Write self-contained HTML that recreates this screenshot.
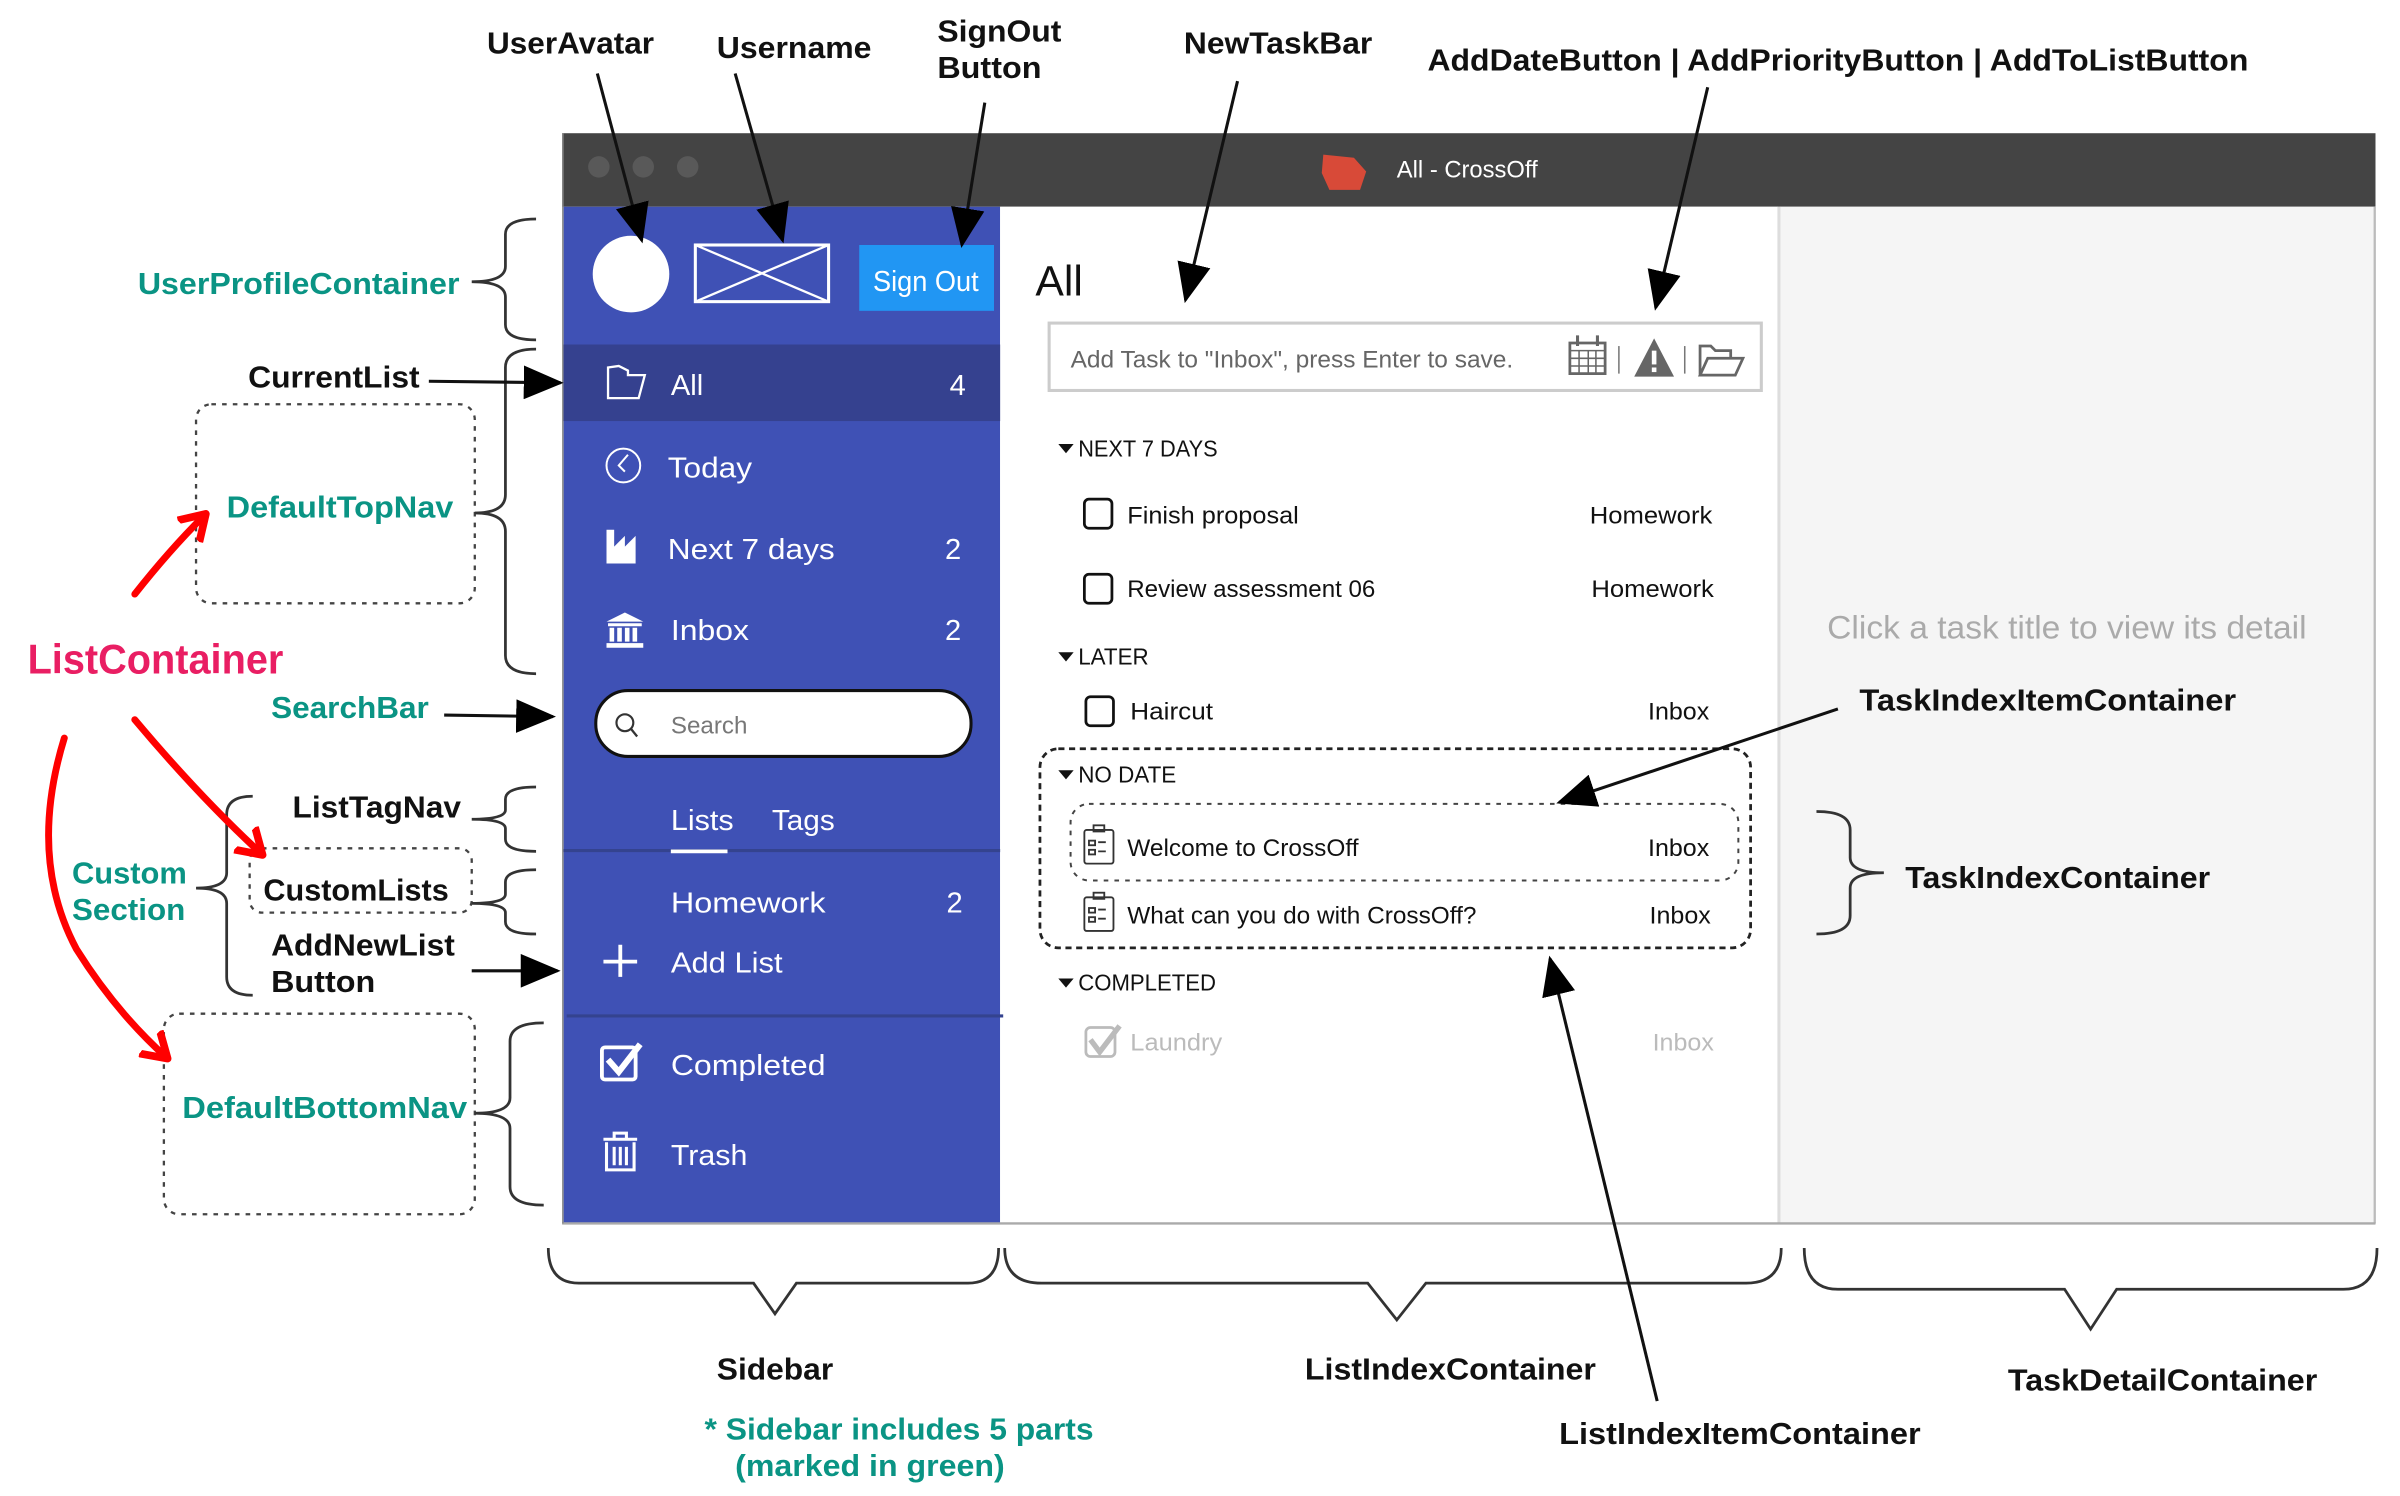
<!DOCTYPE html>
<html><head><meta charset="utf-8"><style>
html,body{margin:0;padding:0;background:#fff;width:2400px;height:1496px;overflow:hidden}
svg{display:block}
text{font-family:"Liberation Sans",sans-serif}
.b{font-weight:bold;fill:#111;font-size:20px}
.g{font-weight:bold;fill:#0a9484;font-size:20px}
.w{fill:#fff;font-size:19px}
.k{fill:#111;font-size:15px}
</style></head><body>
<svg width="2400" height="1496" viewBox="0 0 1567 977" preserveAspectRatio="none" xmlns="http://www.w3.org/2000/svg">
<defs>
<marker id="ahb" markerWidth="26" markerHeight="22" refX="24" refY="11" orient="auto" markerUnits="userSpaceOnUse"><path d="M0,0 L26,11 L0,22 z" fill="#000"/></marker>
<marker id="ahr" markerWidth="26" markerHeight="24" refX="14" refY="12" orient="auto" markerUnits="userSpaceOnUse"><path d="M0,2 L16,12 L0,22" fill="none" stroke="#f00" stroke-width="5" stroke-linejoin="round"/></marker>
</defs>

<!-- window -->
<rect x="367" y="87" width="1184" height="48" fill="#444"/>
<circle cx="391" cy="109" r="7" fill="#595959"/>
<circle cx="420" cy="109" r="7" fill="#595959"/>
<circle cx="449" cy="109" r="7" fill="#595959"/>
<path d="M864,101 L884,103 L892,112 L888,124 L868,124 L863,113 z" fill="#d84a38"/>
<text x="912" y="116" fill="#fff" font-size="16" textLength="92" lengthAdjust="spacingAndGlyphs">All - CrossOff</text>

<rect x="368" y="135" width="285" height="664" fill="#3f51b5"/>
<rect x="653" y="135" width="508" height="664" fill="#fff"/>
<rect x="1162" y="135" width="389" height="664" fill="#f5f5f5"/>
<line x1="1161.5" y1="135" x2="1161.5" y2="799" stroke="#ddd" stroke-width="2"/>
<line x1="1550.5" y1="135" x2="1550.5" y2="799" stroke="#bbb" stroke-width="1.5"/>
<line x1="367" y1="799" x2="1551" y2="799" stroke="#aaa" stroke-width="1.5"/>
<line x1="367.5" y1="87" x2="367.5" y2="799" stroke="#888" stroke-width="1"/>

<!-- sidebar -->
<circle cx="412" cy="179" r="25" fill="#fff"/>
<rect x="454" y="160" width="87" height="37" fill="none" stroke="#fff" stroke-width="2"/>
<path d="M454,160 L541,197 M541,160 L454,197" stroke="#fff" stroke-width="1.5"/>
<rect x="561" y="160" width="88" height="43" fill="#2196f3"/>
<text x="570" y="190" class="w" font-size="18" textLength="69" lengthAdjust="spacingAndGlyphs">Sign Out</text>

<rect x="368" y="225" width="285" height="50" fill="#35418f"/>
<path d="M397,240 L397,260 L417,260 L421,245 L410,245 L410,242 L404,239 z" fill="none" stroke="#fff" stroke-width="1.5"/>
<text x="438" y="258" class="w" font-size="20">All</text>
<text x="620" y="258" class="w" font-size="20">4</text>
<circle cx="407" cy="304" r="11" fill="none" stroke="#fff" stroke-width="1.3"/>
<path d="M410,297 L404,304 L408,308" fill="none" stroke="#fff" stroke-width="1.3"/>
<text x="436" y="312" class="w" font-size="20" textLength="55" lengthAdjust="spacingAndGlyphs">Today</text>
<path d="M396,346 L401,346 L401,357 L408,350 L408,357 L415,350 L415,368 L396,368 z" fill="#fff"/>
<text x="436" y="365" class="w" font-size="20" textLength="109" lengthAdjust="spacingAndGlyphs">Next 7 days</text>
<text x="617" y="365" class="w" font-size="20">2</text>
<path d="M396,406 L408,400 L420,406 z M397,407 h22 v2 h-22z M398,410 h3 v9 h-3z M403,410 h3 v9 h-3z M408,410 h3 v9 h-3z M413,410 h3 v9 h-3z M396,420 h24 v3 h-24z" fill="#fff"/>
<text x="438" y="418" class="w" font-size="20" textLength="51" lengthAdjust="spacingAndGlyphs">Inbox</text>
<text x="617" y="418" class="w" font-size="20">2</text>

<rect x="389" y="451" width="245" height="43" rx="21" fill="#fff" stroke="#111" stroke-width="2"/>
<circle cx="408" cy="472" r="5.5" fill="none" stroke="#333" stroke-width="1.4"/>
<line x1="412" y1="476" x2="416" y2="481" stroke="#333" stroke-width="1.5"/>
<text x="438" y="479" fill="#777" font-size="16" textLength="50" lengthAdjust="spacingAndGlyphs">Search</text>

<text x="438" y="542" class="w" textLength="41" lengthAdjust="spacingAndGlyphs">Lists</text>
<text x="504" y="542" class="w" textLength="41" lengthAdjust="spacingAndGlyphs">Tags</text>
<line x1="368" y1="555.5" x2="653" y2="555.5" stroke="#34438f" stroke-width="2"/>
<line x1="438" y1="556" x2="475" y2="556" stroke="#fff" stroke-width="2.5"/>
<text x="438" y="596" class="w" textLength="101" lengthAdjust="spacingAndGlyphs">Homework</text>
<text x="618" y="596" class="w">2</text>
<path d="M405,617 v21 M394,628 h22" stroke="#fff" stroke-width="2.5"/>
<text x="438" y="635" class="w" textLength="73" lengthAdjust="spacingAndGlyphs">Add List</text>
<line x1="370" y1="663.5" x2="655" y2="663.5" stroke="#34438f" stroke-width="2"/>
<rect x="393" y="684" width="22" height="21" rx="2" fill="none" stroke="#fff" stroke-width="2.5"/>
<path d="M397,692 L404,700 L418,682" fill="none" stroke="#fff" stroke-width="4"/>
<text x="438" y="702" class="w" textLength="101" lengthAdjust="spacingAndGlyphs">Completed</text>
<path d="M394,744 h22 M401,744 v-4 h8 v4 M396,746 v18 h18 v-18 M401,749 v12 M405,749 v12 M409,749 v12" fill="none" stroke="#fff" stroke-width="2"/>
<text x="438" y="761" class="w" textLength="50" lengthAdjust="spacingAndGlyphs">Trash</text>

<!-- middle -->
<text x="676" y="193" fill="#111" font-size="28" textLength="31" lengthAdjust="spacingAndGlyphs">All</text>
<rect x="685" y="211" width="465" height="44" fill="#fff" stroke="#ccc" stroke-width="2"/>
<text x="699" y="240" fill="#666" font-size="16" textLength="289" lengthAdjust="spacingAndGlyphs">Add Task to "Inbox", press Enter to save.</text>
<rect x="1025" y="224" width="23" height="20" fill="none" stroke="#666" stroke-width="1.8"/>
<path d="M1025,229 h23 M1025,234 h23 M1025,239 h23 M1031,229 v15 M1037,229 v15 M1042,229 v15" stroke="#666" stroke-width="1"/>
<path d="M1030,219 v7 M1043,219 v7" stroke="#666" stroke-width="2"/>
<line x1="1057" y1="226" x2="1057" y2="244" stroke="#777" stroke-width="1"/>
<path d="M1080,221 L1093,246 L1067,246 z" fill="#666"/>
<rect x="1078.5" y="229" width="3" height="9" fill="#fff"/><rect x="1078.5" y="240" width="3" height="3" fill="#fff"/>
<line x1="1100" y1="226" x2="1100" y2="244" stroke="#777" stroke-width="1"/>
<path d="M1110,245 L1110,226 L1117,226 L1120,229 L1130,229 L1130,234 M1110,245 L1115,234 L1138,234 L1133,245 z" fill="none" stroke="#666" stroke-width="1.8"/>

<path d="M691,290 h10 l-5,6 z" fill="#111"/>
<text x="704" y="298" class="k" textLength="91" lengthAdjust="spacingAndGlyphs">NEXT 7 DAYS</text>
<rect x="708" y="326" width="18" height="19" rx="3" fill="none" stroke="#111" stroke-width="1.8"/>
<text x="736" y="342" fill="#111" font-size="16" textLength="112" lengthAdjust="spacingAndGlyphs">Finish proposal</text>
<text x="1038" y="342" fill="#111" font-size="16" textLength="80" lengthAdjust="spacingAndGlyphs">Homework</text>
<rect x="708" y="375" width="18" height="19" rx="3" fill="none" stroke="#111" stroke-width="1.8"/>
<text x="736" y="390" fill="#111" font-size="16" textLength="162" lengthAdjust="spacingAndGlyphs">Review assessment 06</text>
<text x="1039" y="390" fill="#111" font-size="16" textLength="80" lengthAdjust="spacingAndGlyphs">Homework</text>
<path d="M691,426 h10 l-5,6 z" fill="#111"/>
<text x="704" y="434" class="k" textLength="46" lengthAdjust="spacingAndGlyphs">LATER</text>
<rect x="709" y="455" width="18" height="19" rx="3" fill="none" stroke="#111" stroke-width="1.8"/>
<text x="738" y="470" fill="#111" font-size="16" textLength="54" lengthAdjust="spacingAndGlyphs">Haircut</text>
<text x="1076" y="470" fill="#111" font-size="16" textLength="40" lengthAdjust="spacingAndGlyphs">Inbox</text>

<rect x="679" y="489" width="464" height="130" rx="12" fill="none" stroke="#222" stroke-width="1.8" stroke-dasharray="4,3"/>
<path d="M691,503 h10 l-5,6 z" fill="#111"/>
<text x="704" y="511" class="k" textLength="64" lengthAdjust="spacingAndGlyphs">NO DATE</text>
<rect x="699" y="525" width="436" height="50" rx="12" fill="none" stroke="#444" stroke-width="1.3" stroke-dasharray="3,4"/>
<g fill="none" stroke="#333" stroke-width="1.2">
<rect x="708" y="542" width="19" height="22" rx="1.5"/><rect x="714" y="539" width="7" height="4"/>
<rect x="711" y="549" width="4" height="3"/><rect x="711" y="555" width="4" height="3"/><path d="M717,550 h5 M717,556 h5"/>
<rect x="708" y="586" width="19" height="22" rx="1.5"/><rect x="714" y="583" width="7" height="4"/>
<rect x="711" y="593" width="4" height="3"/><rect x="711" y="599" width="4" height="3"/><path d="M717,594 h5 M717,600 h5"/>
</g>
<text x="736" y="559" fill="#111" font-size="16" textLength="151" lengthAdjust="spacingAndGlyphs">Welcome to CrossOff</text>
<text x="1076" y="559" fill="#111" font-size="16" textLength="40" lengthAdjust="spacingAndGlyphs">Inbox</text>
<text x="736" y="603" fill="#111" font-size="16" textLength="228" lengthAdjust="spacingAndGlyphs">What can you do with CrossOff?</text>
<text x="1077" y="603" fill="#111" font-size="16" textLength="40" lengthAdjust="spacingAndGlyphs">Inbox</text>
<path d="M691,639 h10 l-5,6 z" fill="#111"/>
<text x="704" y="647" class="k" textLength="90" lengthAdjust="spacingAndGlyphs">COMPLETED</text>
<rect x="709" y="671" width="19" height="19" rx="3" fill="none" stroke="#bbb" stroke-width="1.8"/>
<path d="M712,679 L718,687 L731,670" fill="none" stroke="#bbb" stroke-width="3.5"/>
<text x="738" y="686" fill="#bbb" font-size="16" textLength="60" lengthAdjust="spacingAndGlyphs">Laundry</text>
<text x="1079" y="686" fill="#bbb" font-size="16" textLength="40" lengthAdjust="spacingAndGlyphs">Inbox</text>

<text x="1193" y="417" fill="#aaa" font-size="21" textLength="313" lengthAdjust="spacingAndGlyphs">Click a task title to view its detail</text>

<!-- annotation labels -->
<text x="318" y="35" class="b" textLength="109" lengthAdjust="spacingAndGlyphs">UserAvatar</text>
<text x="468" y="38" class="b" textLength="101" lengthAdjust="spacingAndGlyphs">Username</text>
<text x="612" y="27" class="b" textLength="81" lengthAdjust="spacingAndGlyphs">SignOut</text>
<text x="612" y="51" class="b" textLength="68" lengthAdjust="spacingAndGlyphs">Button</text>
<text x="773" y="35" class="b" textLength="123" lengthAdjust="spacingAndGlyphs">NewTaskBar</text>
<text x="932" y="46" class="b" textLength="536" lengthAdjust="spacingAndGlyphs">AddDateButton | AddPriorityButton | AddToListButton</text>
<text x="90" y="192" class="g" textLength="210" lengthAdjust="spacingAndGlyphs">UserProfileContainer</text>
<text x="162" y="253" class="b" textLength="112" lengthAdjust="spacingAndGlyphs">CurrentList</text>
<text x="148" y="338" class="g" textLength="148" lengthAdjust="spacingAndGlyphs">DefaultTopNav</text>
<text x="18" y="440" font-size="27" fill="#e91e63" font-weight="bold" textLength="167" lengthAdjust="spacingAndGlyphs">ListContainer</text>
<text x="177" y="469" class="g" textLength="103" lengthAdjust="spacingAndGlyphs">SearchBar</text>
<text x="191" y="534" class="b" textLength="110" lengthAdjust="spacingAndGlyphs">ListTagNav</text>
<text x="172" y="588" class="b" textLength="121" lengthAdjust="spacingAndGlyphs">CustomLists</text>
<text x="47" y="577" class="g" textLength="75" lengthAdjust="spacingAndGlyphs">Custom</text>
<text x="47" y="601" class="g" textLength="74" lengthAdjust="spacingAndGlyphs">Section</text>
<text x="177" y="624" class="b" textLength="120" lengthAdjust="spacingAndGlyphs">AddNewList</text>
<text x="177" y="648" class="b" textLength="68" lengthAdjust="spacingAndGlyphs">Button</text>
<text x="119" y="730" class="g" textLength="186" lengthAdjust="spacingAndGlyphs">DefaultBottomNav</text>
<text x="468" y="901" class="b" textLength="76" lengthAdjust="spacingAndGlyphs">Sidebar</text>
<text x="852" y="901" class="b" textLength="190" lengthAdjust="spacingAndGlyphs">ListIndexContainer</text>
<text x="1311" y="908" class="b" textLength="202" lengthAdjust="spacingAndGlyphs">TaskDetailContainer</text>
<text x="460" y="940" class="g" textLength="254" lengthAdjust="spacingAndGlyphs">* Sidebar includes 5 parts</text>
<text x="480" y="964" class="g" textLength="176" lengthAdjust="spacingAndGlyphs">(marked in green)</text>
<text x="1018" y="943" class="b" textLength="236" lengthAdjust="spacingAndGlyphs">ListIndexItemContainer</text>
<text x="1214" y="464" class="b" textLength="246" lengthAdjust="spacingAndGlyphs">TaskIndexItemContainer</text>
<text x="1244" y="580" class="b" textLength="199" lengthAdjust="spacingAndGlyphs">TaskIndexContainer</text>

<!-- dotted boxes -->
<g fill="none" stroke="#444" stroke-width="1.5" stroke-dasharray="3,4">
<rect x="128" y="264" width="182" height="130" rx="10"/>
<rect x="163" y="554" width="145" height="42" rx="8"/>
<rect x="107" y="662" width="203" height="131" rx="10"/>
</g>

<!-- braces -->
<g fill="none" stroke="#333" stroke-width="1.8">
<path d="M350,143 Q330,143 330,153 L330,174 Q330,184 308,184 Q330,184 330,194 L330,212 Q330,222 350,222"/>
<path d="M350,228 Q330,228 330,240 L330,323 Q330,335 310,335 Q330,335 330,347 L330,428 Q330,440 350,440"/>
<path d="M350,514 Q330,514 330,522 L330,529 Q330,535 308,535 Q330,535 330,541 L330,548 Q330,556 350,556"/>
<path d="M350,568 Q330,568 330,576 L330,584 Q330,590 308,590 Q330,590 330,596 L330,602 Q330,610 350,610"/>
<path d="M165,520 Q148,520 148,532 L148,570 Q148,580 128,580 Q148,580 148,590 L148,638 Q148,650 165,650"/>
<path d="M355,668 Q333,668 333,680 L333,717 Q333,727 310,727 Q333,727 333,737 L333,775 Q333,787 355,787"/>
<path d="M1186,530 Q1208,530 1208,542 L1208,560 Q1208,570 1230,570 Q1208,570 1208,580 L1208,598 Q1208,610 1186,610"/>
<path d="M358,815 Q358,838 378,838 L492,838 L506,858 L520,838 L632,838 Q652,838 652,815"/>
<path d="M656,815 Q656,838 680,838 L893,838 L912,862 L931,838 L1140,838 Q1163,838 1163,815"/>
<path d="M1178,815 Q1178,842 1200,842 L1348,842 L1365,868 L1382,842 L1530,842 Q1552,842 1552,815"/>
</g>

<!-- arrows -->
<g stroke="#111" stroke-width="2" fill="none" marker-end="url(#ahb)">
<line x1="390" y1="48" x2="419" y2="157"/>
<line x1="480" y1="48" x2="511" y2="157"/>
<line x1="643" y1="67" x2="628" y2="160"/>
<line x1="808" y1="53" x2="774" y2="196"/>
<line x1="1115" y1="57" x2="1081" y2="201"/>
<line x1="280" y1="249" x2="366" y2="250"/>
<line x1="290" y1="467" x2="361" y2="468"/>
<line x1="308" y1="634" x2="364" y2="634"/>
<line x1="1200" y1="463" x2="1018" y2="524"/>
<line x1="1082" y1="915" x2="1012" y2="626"/>
</g>

<!-- red arrows -->
<g stroke="#f00" stroke-width="4.5" fill="none" stroke-linecap="round" marker-end="url(#ahr)">
<path d="M88,388 Q110,360 133,337"/>
<path d="M88,470 Q130,520 170,557"/>
<path d="M42,482 Q18,560 50,620 Q75,660 108,690"/>
</g>
</svg>
</body></html>
